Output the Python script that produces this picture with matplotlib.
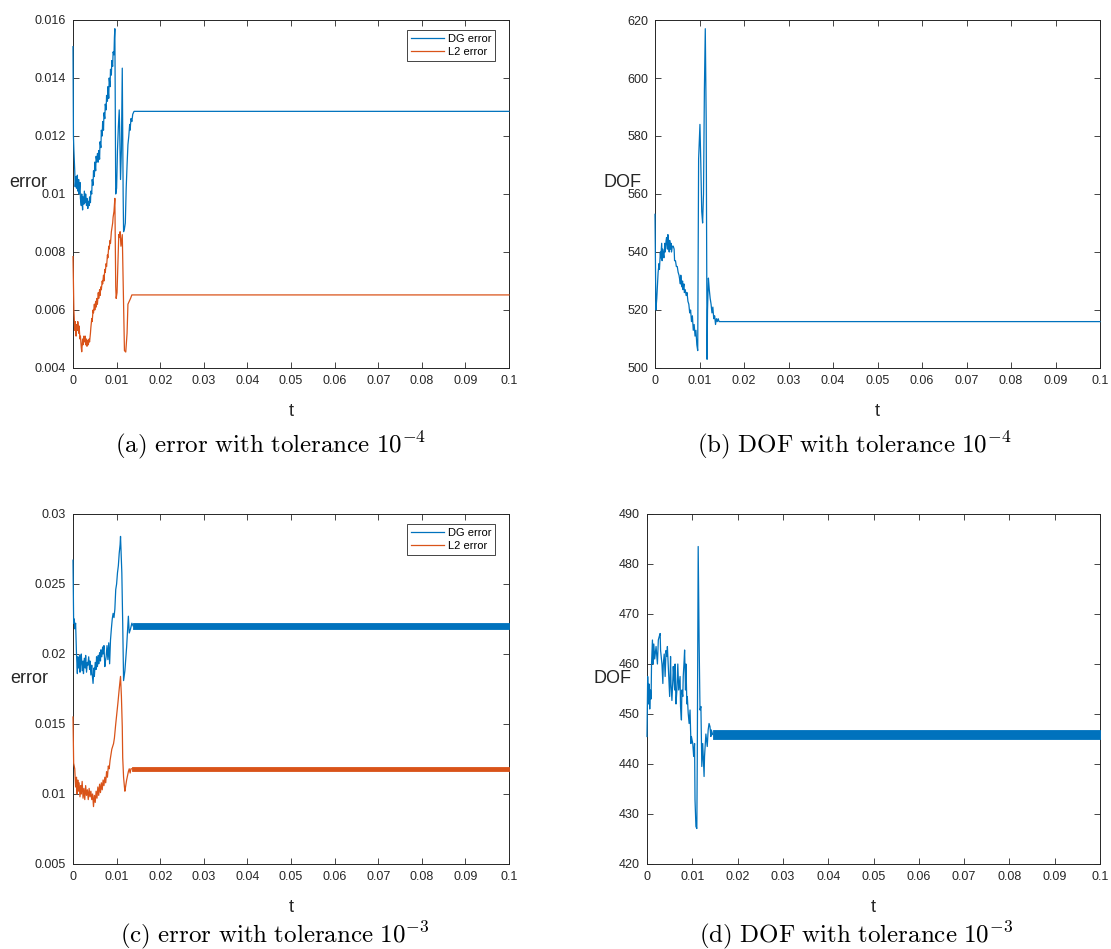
import matplotlib
matplotlib.use("Agg")
import matplotlib.pyplot as plt
import numpy as np

plt.rcParams['font.family'] = ['Liberation Sans', 'DejaVu Sans']
plt.rcParams['mathtext.fontset'] = 'cm'

BLUE = '#0072BD'
ORANGE = '#D95319'
AXC = '#262626'

# ---------------- Panel (a): error, tolerance 1e-4 ----------------
a_dg_t = [0, 0.0001, 0.0002, 0.0004, 0.0005, 0.0007, 0.0008, 0.0010, 0.0011, 0.0013, 0.0014,
          0.0016, 0.0017, 0.0019, 0.0020, 0.0022, 0.0023, 0.0025, 0.0026, 0.0028, 0.0029,
          0.0031, 0.0032, 0.0034, 0.0035, 0.0037, 0.0038, 0.0040, 0.0041, 0.0043, 0.0044,
          0.0046, 0.0047, 0.0049, 0.0050, 0.0052, 0.0053, 0.0055, 0.0056, 0.0058, 0.0059,
          0.0061, 0.0062, 0.0064, 0.0065, 0.0067, 0.0068, 0.0070, 0.0071, 0.0073, 0.0074,
          0.0076, 0.0077, 0.0079, 0.0080, 0.0082, 0.0083, 0.0085, 0.0086, 0.0088, 0.0089,
          0.0091, 0.0092, 0.0094, 0.0095, 0.0096, 0.0098, 0.0100, 0.0102, 0.0104, 0.0106,
          0.0107, 0.0109, 0.0111, 0.0113, 0.0115, 0.0116, 0.0118, 0.0120, 0.0122, 0.0124,
          0.0126, 0.0128, 0.0130, 0.0131, 0.0133, 0.0135, 0.0137, 0.0140, 0.1]
a_dg_v = [0.01508, 0.01200, 0.01152, 0.01080, 0.01025, 0.01060, 0.01020, 0.01065, 0.01010, 0.01050, 0.01000,
          0.01040, 0.00985, 0.00960, 0.01000, 0.00945, 0.00990, 0.00965, 0.01010, 0.00970, 0.01000,
          0.00960, 0.00985, 0.00950, 0.00975, 0.00960, 0.00990, 0.00970, 0.01010, 0.01000, 0.01050,
          0.01030, 0.01080, 0.01060, 0.01110, 0.01080, 0.01130, 0.01110, 0.01140, 0.01110, 0.01150,
          0.01120, 0.01180, 0.01160, 0.01220, 0.01200, 0.01250, 0.01220, 0.01280, 0.01260, 0.01310,
          0.01290, 0.01340, 0.01320, 0.01370, 0.01330, 0.01400, 0.01370, 0.01430, 0.01410, 0.01460,
          0.01440, 0.01490, 0.01480, 0.01540, 0.01570, 0.01000, 0.01020, 0.01150, 0.01230, 0.01290,
          0.01230, 0.01050, 0.01150, 0.01434, 0.01000, 0.00870, 0.00880, 0.00900, 0.01020, 0.01100,
          0.01170, 0.01200, 0.01240, 0.01220, 0.01260, 0.01250, 0.01275, 0.01285, 0.01285]

a_l2_t = [0, 0.0002, 0.0004, 0.0005, 0.0007, 0.0008, 0.0010, 0.0011, 0.0013, 0.0014, 0.0016,
          0.0017, 0.0019, 0.0020, 0.0022, 0.0023, 0.0025, 0.0026, 0.0028, 0.0029, 0.0031,
          0.0032, 0.0034, 0.0035, 0.0037, 0.0038, 0.0040, 0.0041, 0.0043, 0.0044, 0.0046,
          0.0047, 0.0049, 0.0050, 0.0052, 0.0053, 0.0055, 0.0056, 0.0058, 0.0059, 0.0061,
          0.0062, 0.0064, 0.0065, 0.0067, 0.0068, 0.0070, 0.0071, 0.0073, 0.0074, 0.0076,
          0.0077, 0.0079, 0.0080, 0.0082, 0.0083, 0.0085, 0.0086, 0.0088, 0.0089, 0.0091,
          0.0092, 0.0094, 0.0096, 0.0098, 0.0099, 0.0101, 0.0103, 0.0105, 0.0106, 0.0108,
          0.0110, 0.0113, 0.0116, 0.0118, 0.0121, 0.0124, 0.0126, 0.0129, 0.0132, 0.0135, 0.1]
a_l2_v = [0.00784, 0.00600, 0.00530, 0.00560, 0.00510, 0.00550, 0.00530, 0.00560, 0.00520, 0.00545, 0.00500,
          0.00510, 0.00470, 0.00456, 0.00500, 0.00480, 0.00510, 0.00490, 0.00510, 0.00480, 0.00500,
          0.00475, 0.00495, 0.00480, 0.00500, 0.00490, 0.00520, 0.00540, 0.00570, 0.00560, 0.00600,
          0.00590, 0.00620, 0.00600, 0.00630, 0.00610, 0.00640, 0.00620, 0.00660, 0.00640, 0.00670,
          0.00650, 0.00680, 0.00670, 0.00700, 0.00690, 0.00720, 0.00700, 0.00740, 0.00730, 0.00760,
          0.00750, 0.00790, 0.00780, 0.00820, 0.00810, 0.00840, 0.00830, 0.00870, 0.00880, 0.00900,
          0.00920, 0.00940, 0.00985, 0.00680, 0.00640, 0.00660, 0.00760, 0.00860, 0.00850, 0.00870,
          0.00820, 0.00860, 0.00620, 0.00460, 0.00455, 0.00520, 0.00620, 0.00630, 0.00640, 0.00652, 0.00652]

# ---------------- Panel (b): DOF, tolerance 1e-4 ----------------
b_t = [0, 0.0002, 0.0004, 0.0005, 0.0007, 0.0009, 0.0010, 0.0012, 0.0013, 0.0015, 0.0016, 0.0017,
       0.0019, 0.0020, 0.0022, 0.0023, 0.0025, 0.0026, 0.0028, 0.0029, 0.0030, 0.0032, 0.0033,
       0.0035, 0.0036, 0.0037, 0.0039, 0.0041, 0.0043, 0.0044, 0.0046, 0.0048, 0.0050, 0.0052,
       0.0054, 0.0055, 0.0057, 0.0058, 0.0060, 0.0062, 0.0063, 0.0065, 0.0066, 0.0068, 0.0070,
       0.0072, 0.0074, 0.0076, 0.0078, 0.0080, 0.0082, 0.0084, 0.0086, 0.0088, 0.0090, 0.0092,
       0.0094, 0.0096, 0.0098, 0.0101, 0.0103, 0.0105, 0.0107, 0.0109, 0.0111, 0.0113, 0.0115,
       0.0117, 0.0118, 0.0120, 0.0122, 0.0124, 0.0126, 0.0128, 0.0130, 0.0132, 0.0134, 0.0136,
       0.0138, 0.0140, 0.0142, 0.0144, 0.1]
b_v = [553, 520, 524, 527, 533, 536, 534, 540, 538, 543, 537, 541,
       539, 538, 543, 540, 544, 545, 541, 546, 543, 540, 544,
       541, 543, 540, 542, 542, 541, 537, 537, 535, 535, 533,
       532, 531, 529, 532, 528, 530, 527, 529, 526, 527, 525,
       526, 523, 522, 519, 520, 516, 518, 513, 515, 511, 513,
       508, 506, 572, 584, 570, 554, 550, 560, 596, 617, 586,
       503, 520, 531, 527, 524, 522, 519, 521, 517, 518, 515,
       517, 516, 517, 516, 516]

# ---------------- Panel (c): error, tolerance 1e-3 ----------------
c_dg_t = [0, 0.00015, 0.0003, 0.0004, 0.0006, 0.0008, 0.0010, 0.0011, 0.0013, 0.0015, 0.0016,
          0.0018, 0.0019, 0.0021, 0.0023, 0.0024, 0.0026, 0.0028, 0.0029, 0.0031, 0.0033,
          0.0034, 0.0036, 0.0038, 0.0039, 0.0041, 0.0043, 0.0044, 0.0046, 0.0048, 0.0049,
          0.0051, 0.0053, 0.0054, 0.0056, 0.0058, 0.0059, 0.0061, 0.0063, 0.0064, 0.0066,
          0.0068, 0.0069, 0.0071, 0.0073, 0.0074, 0.0076, 0.0078, 0.0080, 0.0082, 0.0084,
          0.0086, 0.0088, 0.0090, 0.0092, 0.0094, 0.0096, 0.0098, 0.0100, 0.0102, 0.0104,
          0.0106, 0.0108, 0.0109, 0.0112, 0.0114, 0.0116, 0.0119, 0.0123, 0.0127, 0.0129,
          0.0132, 0.0135, 0.0138]
c_dg_v = [0.0267, 0.0222, 0.0225, 0.0218, 0.0222, 0.0200, 0.0186, 0.0198, 0.0190, 0.0199, 0.0187,
          0.0196, 0.0200, 0.0188, 0.0195, 0.0186, 0.0197, 0.0190, 0.0199, 0.0187, 0.0194,
          0.0192, 0.0198, 0.0189, 0.0195, 0.0185, 0.0192, 0.0186, 0.0179, 0.0190, 0.0184,
          0.0194, 0.0189, 0.0198, 0.0191, 0.0199, 0.0193, 0.0201, 0.0195, 0.0203, 0.0198,
          0.0205, 0.0200, 0.0206, 0.0191, 0.0194, 0.0198, 0.0206, 0.0196, 0.0208, 0.0193,
          0.0210, 0.0218, 0.0225, 0.0229, 0.0226, 0.0232, 0.0246, 0.0250, 0.0258, 0.0263,
          0.0272, 0.0278, 0.0284, 0.0258, 0.0222, 0.0181, 0.0188, 0.0205, 0.0227, 0.0215,
          0.0218, 0.0222, 0.0220]
c_dg_band = [0.02178, 0.02224]

c_l2_t = [0, 0.00015, 0.0004, 0.0006, 0.0008, 0.0009, 0.0011, 0.0012, 0.0014, 0.0016, 0.0018,
          0.0019, 0.0021, 0.0023, 0.0025, 0.0027, 0.0029, 0.0031, 0.0033, 0.0035, 0.0037,
          0.0039, 0.0041, 0.0043, 0.0045, 0.0047, 0.0049, 0.0051, 0.0053, 0.0055, 0.0057,
          0.0059, 0.0061, 0.0063, 0.0065, 0.0067, 0.0069, 0.0071, 0.0073, 0.0075, 0.0077,
          0.0079, 0.0081, 0.0083, 0.0085, 0.0087, 0.0089, 0.0091, 0.0093, 0.0095, 0.0098,
          0.0100, 0.0103, 0.0106, 0.0109, 0.0111, 0.0113, 0.0114, 0.0116, 0.0118, 0.0119,
          0.0121, 0.0123, 0.0125, 0.0127, 0.0129, 0.0131, 0.0133, 0.0136]
c_l2_v = [0.0155, 0.0122, 0.0118, 0.0105, 0.0112, 0.0100, 0.0110, 0.0102, 0.0108, 0.0098, 0.0106,
          0.0100, 0.0109, 0.0097, 0.0104, 0.0096, 0.0106, 0.0099, 0.0103, 0.0096, 0.0104,
          0.0098, 0.0102, 0.0096, 0.0100, 0.0091, 0.0099, 0.0094, 0.0102, 0.0097, 0.0105,
          0.0099, 0.0107, 0.0101, 0.0108, 0.0103, 0.0110, 0.0106, 0.0112, 0.0108, 0.0116,
          0.0112, 0.0120, 0.0118, 0.0124, 0.0128, 0.0132, 0.0134, 0.0136, 0.0140, 0.0150,
          0.0156, 0.0165, 0.0175, 0.0184, 0.0170, 0.0148, 0.0126, 0.0112, 0.0105, 0.0102,
          0.0106, 0.0110, 0.0113, 0.0116, 0.0118, 0.0115, 0.0118, 0.0118]
c_l2_band = [0.01162, 0.01193]

# ---------------- Panel (d): DOF, tolerance 1e-3 ----------------
d_t = [0, 0.00015, 0.0003, 0.00045, 0.0006, 0.00076, 0.0009, 0.0010, 0.0012, 0.00136, 0.0015,
       0.0017, 0.0020, 0.0023, 0.0025, 0.0027, 0.0029, 0.0030, 0.0033, 0.0035, 0.0036,
       0.0038, 0.0040, 0.0042, 0.0044, 0.0045, 0.0048, 0.0050, 0.0052, 0.0053, 0.0055,
       0.0057, 0.0058, 0.0061, 0.0062, 0.0064, 0.0066, 0.0068, 0.0070, 0.0073, 0.0074,
       0.0076, 0.0077, 0.0079, 0.0080, 0.0082, 0.0083, 0.0085, 0.0086, 0.0088, 0.0089,
       0.0091, 0.0093, 0.0095, 0.0097, 0.0098, 0.0101, 0.0103, 0.0105, 0.0106, 0.0108,
       0.0110, 0.0111, 0.0113, 0.0115, 0.0117, 0.0119, 0.0121, 0.0123, 0.0126, 0.0127,
       0.0130, 0.0133, 0.0135, 0.0137, 0.0139, 0.0141, 0.0142, 0.0145]
d_v = [445.5, 457.5, 452.0, 456.0, 451.0, 454.8, 453.0, 460.0, 464.8, 460.0, 464.0,
       461.0, 463.5, 460.0, 464.8, 465.5, 466.1, 462.7, 460.0, 456.1, 460.0,
       462.0, 457.5, 462.7, 461.5, 463.5, 457.5, 453.5, 461.5, 456.1, 452.7,
       456.8, 459.5, 454.8, 460.0, 452.0, 454.8, 460.0, 454.8, 457.5, 451.5,
       448.8, 454.8, 453.5, 457.5, 460.8, 462.8, 454.8, 460.0, 452.0, 453.5,
       450.1, 448.1, 450.8, 444.1, 445.5, 444.1, 441.5, 444.1, 432.8, 427.5,
       427.1, 441.5, 483.5, 464.8, 450.8, 451.5, 439.5, 444.1, 437.5, 441.5,
       446.0, 443.5, 446.8, 448.1, 447.5, 445.5, 446.8, 445.9]
d_band = [445.05, 446.75]

x_ticks = [0, 0.01, 0.02, 0.03, 0.04, 0.05, 0.06, 0.07, 0.08, 0.09, 0.1]
x_ticklabels = ['0', '0.01', '0.02', '0.03', '0.04', '0.05', '0.06', '0.07', '0.08', '0.09', '0.1']
a_yticks = [0.004, 0.006, 0.008, 0.01, 0.012, 0.014, 0.016]
a_yticklabels = ['0.004', '0.006', '0.008', '0.01', '0.012', '0.014', '0.016']
b_yticks = [500, 520, 540, 560, 580, 600, 620]
c_yticks = [0.005, 0.01, 0.015, 0.02, 0.025, 0.03]
c_yticklabels = ['0.005', '0.01', '0.015', '0.02', '0.025', '0.03']
d_yticks = [420, 430, 440, 450, 460, 470, 480, 490]

captions = [r'$\mathrm{(a)\ error\ with\ tolerance\ }10^{-4}$',
            r'$\mathrm{(b)\ DOF\ with\ tolerance\ }10^{-4}$',
            r'$\mathrm{(c)\ error\ with\ tolerance\ }10^{-3}$',
            r'$\mathrm{(d)\ DOF\ with\ tolerance\ }10^{-3}$']

W, H = 1111, 949
fig = plt.figure(figsize=(W / 100, H / 100), dpi=100)


def make_axes(l, t, r, b):
    return fig.add_axes([l / W, 1 - b / H, (r - l) / W, (b - t) / H])


def style(ax, yticks, yticklabels, ylim, ylabel, ylx, yly):
    ax.set_xlim(0, 0.1)
    ax.set_ylim(*ylim)
    ax.set_xticks(x_ticks)
    ax.set_xticklabels(x_ticklabels)
    ax.set_yticks(yticks)
    ax.set_yticklabels(yticklabels)
    ax.tick_params(direction='in', length=4, width=0.6, colors=AXC, labelsize=9,
                   top=True, right=True, pad=5)
    for s in ax.spines.values():
        s.set_color(AXC)
        s.set_linewidth(0.7)
    ax.set_xlabel('t', fontsize=13, color=AXC)
    ax.xaxis.set_label_coords(0.5, -0.125)
    ax.xaxis.label.set_va('center')
    ax.set_ylabel(ylabel, fontsize=13, color=AXC, rotation=0, ha='center', va='center')
    ax.yaxis.set_label_coords(ylx, yly)


def legend(ax):
    leg = ax.legend(loc='upper right', bbox_to_anchor=(0.968, 0.971), borderaxespad=0,
                    fontsize=8, handlelength=3.0, handletextpad=0.3, borderpad=0.35,
                    labelspacing=0.25, fancybox=False, framealpha=1, edgecolor=AXC)
    leg.get_frame().set_linewidth(0.6)


LW = 0.9
LKW = dict(lw=LW, zorder=3, clip_on=False)

# (a)
axa = make_axes(73, 20, 509, 368)
axa.plot(a_dg_t, a_dg_v, color=BLUE, label='DG error', **LKW)
axa.plot(a_l2_t, a_l2_v, color=ORANGE, label='L2 error', **LKW)
style(axa, a_yticks, a_yticklabels, (0.004, 0.016), 'error', -0.103, 0.532)
legend(axa)

# (b)
axb = make_axes(655, 20, 1100, 368)
axb.plot(b_t, b_v, color=BLUE, **LKW)
style(axb, b_yticks, [str(v) for v in b_yticks], (500, 620), 'DOF', -0.074, 0.532)

# (c)
axc = make_axes(73, 514, 509, 864)
axc.plot(c_dg_t, c_dg_v, color=BLUE, label='DG error', **LKW)
axc.plot(c_l2_t, c_l2_v, color=ORANGE, label='L2 error', **LKW)
axc.fill_between([c_dg_t[-1], 0.1], c_dg_band[0], c_dg_band[1], color=BLUE, lw=0.6, ec=BLUE, zorder=3)
axc.fill_between([c_l2_t[-1], 0.1], c_l2_band[0], c_l2_band[1], color=ORANGE, lw=0.6, ec=ORANGE, zorder=3)
style(axc, c_yticks, c_yticklabels, (0.005, 0.03), 'error', -0.101, 0.531)
legend(axc)

# (d)
axd = make_axes(647, 514, 1100, 864)
axd.plot(d_t, d_v, color=BLUE, **LKW)
axd.fill_between([d_t[-1], 0.1], d_band[0], d_band[1], color=BLUE, lw=0.6, ec=BLUE, zorder=3)
style(axd, d_yticks, [str(v) for v in d_yticks], (420, 490), 'DOF', -0.077, 0.530)

# captions
fig.text(271 / W, 1 - 445 / H, captions[0], fontsize=18, ha='center', va='center', color='black')
fig.text(854 / W, 1 - 445 / H, captions[1], fontsize=18, ha='center', va='center', color='black')
fig.text(275 / W, 1 - 935 / H, captions[2], fontsize=18, ha='center', va='center', color='black')
fig.text(856 / W, 1 - 935 / H, captions[3], fontsize=18, ha='center', va='center', color='black')

fig.savefig('out.png', dpi=100, facecolor='white')
